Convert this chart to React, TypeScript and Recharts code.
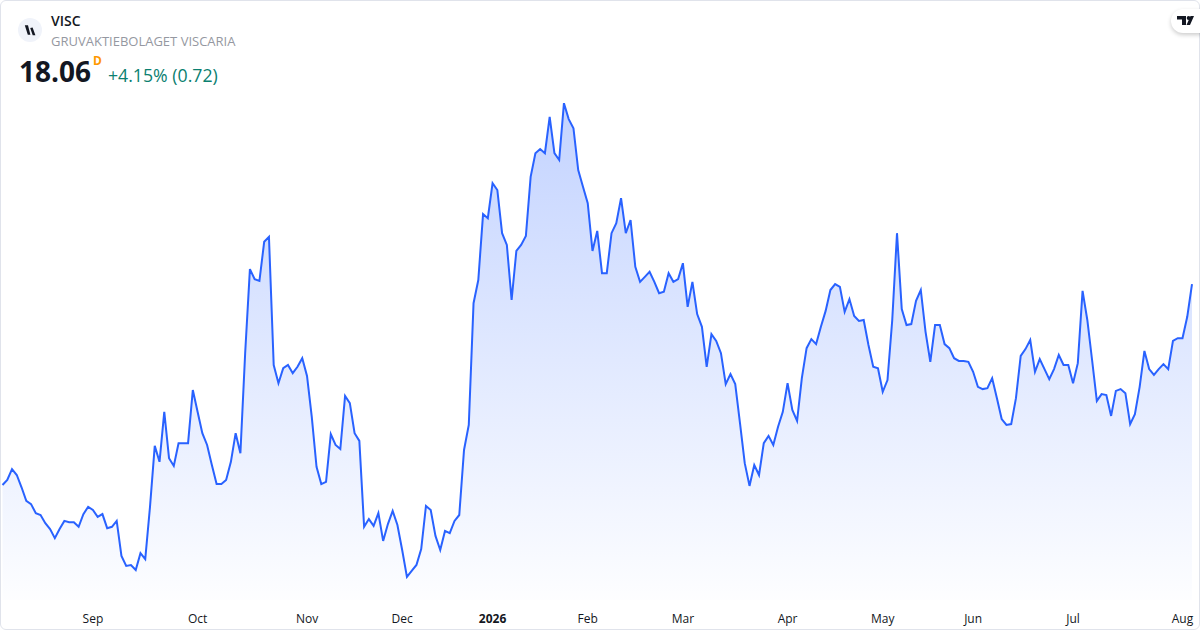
import React from "react";
import { AreaChart, Area, XAxis, YAxis } from "recharts";

const FONT = '"Open Sans", "Noto Sans", sans-serif';

const symbol = "VISC";
const companyName = "GRUVAKTIEBOLAGET VISCARIA";
const lastPrice = "18.06";
const delayFlag = "D";
const changeText = "+4.15% (0.72)";

const tickIndexes = [19, 41, 64, 84, 103, 123, 143, 165, 185, 204, 225, 248];
const tickLabels = ["Sep", "Oct", "Nov", "Dec", "2026", "Feb", "Mar", "Apr", "May", "Jun", "Jul", "Aug"];

const closesAugToOct = [
  13.64, 13.75, 13.99, 13.86, 13.59, 13.29, 13.22, 13.02, 12.98, 12.8,
  12.67, 12.47, 12.67, 12.85, 12.82, 12.82, 12.72, 13.0, 13.16, 13.09,
  12.94, 13.0, 12.69, 12.72, 12.85, 12.08, 11.86, 11.88, 11.77, 12.14,
  12.01, 13.16, 14.5, 14.15, 15.25, 14.23, 14.06, 14.56, 14.56, 14.56,
  15.73, 15.25, 14.78, 14.52, 14.08, 13.66, 13.66, 13.75, 14.15, 14.78, 14.34,
];
const closesOctToDec = [
  16.54, 18.39, 18.17, 18.13, 18.99, 19.1, 16.28, 15.88, 16.21, 16.28,
  16.1, 16.24, 16.43, 16.04, 15.14, 14.04, 13.66, 13.71, 14.76, 14.52,
  14.43, 15.6, 15.44, 14.78, 14.61, 12.72, 12.89, 12.74, 13.02, 12.41,
  12.78, 13.07, 12.76, 12.21, 11.62, 11.75, 11.88, 12.23, 13.18, 13.09,
  12.52, 12.21, 12.63, 12.58, 12.85, 12.98,
];
const closesDecToMar = [
  14.41, 14.96, 17.64, 18.15, 19.6, 19.51, 20.28, 20.13, 19.18, 18.92,
  17.71, 18.79, 18.92, 19.12, 20.42, 20.94, 21.03, 20.94, 21.74, 20.94,
  20.79, 22.04, 21.69, 21.49, 20.57, 20.2, 19.84, 18.79, 19.23, 18.3,
  18.3, 19.18, 19.4, 19.95, 19.18, 19.47, 18.44, 18.11, 18.22, 18.33,
  18.11, 17.86, 17.89, 18.3, 18.11, 18.17, 18.52, 17.56,
];
const closesMarToJun = [
  18.11, 17.4, 17.12, 16.24, 16.96, 16.81, 16.54, 15.86, 16.08, 15.86,
  15.0, 14.12, 13.62, 14.08, 13.86, 14.56, 14.72, 14.52, 14.92, 15.25,
  15.88, 15.29, 15.05, 15.99, 16.65, 16.85, 16.74, 17.12, 17.47, 17.93,
  18.06, 18.0, 17.45, 17.73, 17.36, 17.25, 17.27, 16.72, 16.24, 16.21,
  15.69, 15.95, 17.27, 19.18, 17.51, 17.16, 17.18, 17.69, 17.93, 17.01,
  16.35, 17.16, 17.16,
];
const closesJunToAug = [
  16.74, 16.65, 16.43, 16.37, 16.37, 16.35, 16.13, 15.8, 15.75, 15.77,
  15.99, 15.55, 15.09, 14.96, 14.98, 15.55, 16.48, 16.63, 16.83, 16.13,
  16.41, 16.19, 15.97, 16.19, 16.5, 16.28, 16.28, 15.88, 16.32, 17.91,
  17.27, 16.39, 15.49, 15.64, 15.62, 15.16, 15.71, 15.75, 15.66, 14.98,
  15.2, 15.8, 16.59, 16.19, 16.06, 16.19, 16.3, 16.19, 16.81, 16.87,
  16.87, 17.34, 18.06,
];

const closes = [...closesAugToOct, ...closesOctToDec, ...closesDecToMar, ...closesMarToJun, ...closesJunToAug];
const tableData = closes.map((close, index) => ({ index, close }));

function MonthTick(props: any) {
  const { x, y, payload } = props;
  const label = tickLabels[tickIndexes.indexOf(payload.value)];
  const isYear = label === "2026";
  return (
    <text
      x={x}
      y={y + 12}
      textAnchor="middle"
      dominantBaseline="central"
      fontFamily={FONT}
      fontSize={12}
      fontWeight={isYear ? 700 : 400}
      fill="#131722"
    >
      {label}
    </text>
  );
}

export default function App() {
  return (
    <div
      style={{
        position: "absolute",
        left: 0,
        top: 0,
        width: 1200,
        height: 630,
        background: "#ffffff",
        fontFamily: FONT,
        overflow: "hidden",
      }}
    >
      <AreaChart
        width={1200}
        height={630}
        data={tableData}
        margin={{ top: 0, right: 8, bottom: 0, left: 2.5 }}
        style={{ position: "absolute", left: 0, top: 0 }}
      >
        <defs>
          <linearGradient id="areaFade" x1="0" y1="0" x2="0" y2="1">
            <stop offset="0%" stopColor="#2962FF" stopOpacity={0.28} />
            <stop offset="100%" stopColor="#2962FF" stopOpacity={0.01} />
          </linearGradient>
        </defs>
        <XAxis
          dataKey="index"
          type="number"
          domain={[0, 250]}
          ticks={tickIndexes}
          interval={0}
          axisLine={false}
          tickLine={false}
          height={30}
          tickMargin={0}
          tick={<MonthTick />}
        />
        <YAxis hide domain={[11.11, 24.31]} />
        <Area
          type="linear"
          dataKey="close"
          stroke="#2962FF"
          strokeWidth={2}
          fill="url(#areaFade)"
          fillOpacity={1}
          dot={false}
          activeDot={false}
          isAnimationActive={false}
        />
      </AreaChart>

      <div
        style={{
          position: "absolute",
          left: 0,
          top: 0,
          width: 1200,
          height: 630,
          boxSizing: "border-box",
          border: "1px solid #e0e3eb",
          borderRadius: 6,
          pointerEvents: "none",
        }}
      />

      <svg width={24} height={24} style={{ position: "absolute", left: 18, top: 18 }}>
        <circle cx={12} cy={12} r={12} fill="#f0f3fa" />
        <path d="M6.8 7.3 L10 7.3 L12.4 16.7 L9.8 16.7 Z M12.2 10 L14.6 9.4 L17.4 17.2 L14.7 17.2 Z" fill="#131722" />
      </svg>

      <div style={{ position: "absolute", left: 51, top: 12, fontSize: 14, lineHeight: "18px", fontWeight: 600, color: "#131722" }}>
        {symbol}
      </div>
      <div style={{ position: "absolute", left: 51, top: 32, fontSize: 13, lineHeight: "18px", color: "#9598a1", whiteSpace: "nowrap" }}>
        {companyName}
      </div>
      <div style={{ position: "absolute", left: 19, top: 52, fontSize: 28, lineHeight: "38px", fontWeight: 700, color: "#131722" }}>
        {lastPrice}
      </div>
      <div style={{ position: "absolute", left: 93, top: 53, fontSize: 12, lineHeight: "16px", fontWeight: 700, color: "#ff9800" }}>
        {delayFlag}
      </div>
      <div style={{ position: "absolute", left: 108, top: 63, fontSize: 17.7, lineHeight: "24px", color: "#0b8070", whiteSpace: "nowrap" }}>
        {changeText}
      </div>

      <div
        style={{
          position: "absolute",
          left: 1171,
          top: 9,
          width: 40,
          height: 24,
          borderRadius: 12,
          background: "#ffffff",
          boxShadow: "0 2px 4px rgba(0,0,0,0.2)",
        }}
      />
      <svg width={20} height={12} style={{ position: "absolute", left: 1176, top: 15 }}>
        <path d="M1 1 L10 1 L10 10 L6 10 L6 4.5 L1 4.5 Z M18 1 L14 10 L10.5 10 L14.5 1 Z" fill="#131722" />
        <circle cx={12.6} cy={3} r={1.9} fill="#131722" />
      </svg>
    </div>
  );
}
